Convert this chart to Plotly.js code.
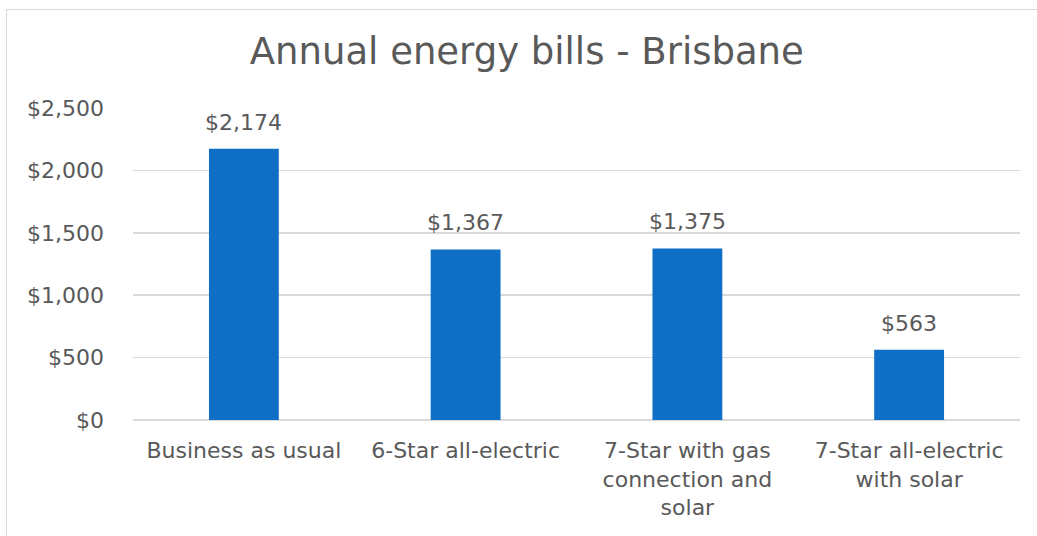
<!DOCTYPE html>
<html>
<head>
<meta charset="utf-8">
<script src="https://cdn.plot.ly/plotly-3.0.1.min.js"></script>
<style>
html,body{margin:0;padding:0;background:#fff;overflow:hidden;}
#frame{position:absolute;left:6px;top:9px;width:1100px;height:600px;border:1.5px solid #d9d9d9;box-sizing:border-box;}
#chart{position:absolute;left:0;top:0;width:1037px;height:536px;}
</style>
</head>
<body>
<div id="frame"></div>
<div id="chart"></div>
<script>
const categories = ["Business as usual", "6-Star all-electric", "7-Star with gas<br>connection and<br>solar", "7-Star all-electric<br>with solar"];
const bills = [2174, 1367, 1375, 563];
const yTicks = [0, 500, 1000, 1500, 2000, 2500];

const font = "DejaVu Sans, sans-serif";
const grey = "#595959";
const fmt = v => "$" + v.toLocaleString("en-US");

Plotly.newPlot("chart", [{
  type: "bar",
  x: categories,
  y: bills,
  marker: {color: "#0F6FC6"},
  hoverinfo: "none"
}], {
  width: 1037,
  height: 536,
  paper_bgcolor: "rgba(0,0,0,0)",
  plot_bgcolor: "rgba(0,0,0,0)",
  margin: {l: 133, r: 17, t: 108, b: 116},
  bargap: 0.685,
  showlegend: false,
  title: {text: "Annual energy bills - Brisbane", font: {family: font, size: 37, color: grey}, x: 0.508, xanchor: "center", y: 0.905, yanchor: "middle"},
  annotations: categories.map((c, i) => ({
    x: c, y: bills[i], xref: "x", yref: "y",
    text: fmt(bills[i]), showarrow: false,
    yanchor: "bottom", yshift: 12,
    font: {family: font, size: 22, color: grey}
  })),
  xaxis: {
    tickfont: {family: font, size: 22, color: grey},
    showgrid: false,
    showline: false,
    ticks: "",
    ticklabelstandoff: 15
  },
  yaxis: {
    range: [0, 2500],
    tickvals: yTicks,
    ticktext: yTicks.map(fmt),
    tickfont: {family: font, size: 22, color: grey},
    gridcolor: "#d9d9d9",
    gridwidth: 1.5,
    zeroline: true,
    zerolinecolor: "#d9d9d9",
    zerolinewidth: 1.5,
    showline: false,
    ticks: "",
    ticklabelstandoff: 28
  }
}, {staticPlot: true});
</script>
</body>
</html>
